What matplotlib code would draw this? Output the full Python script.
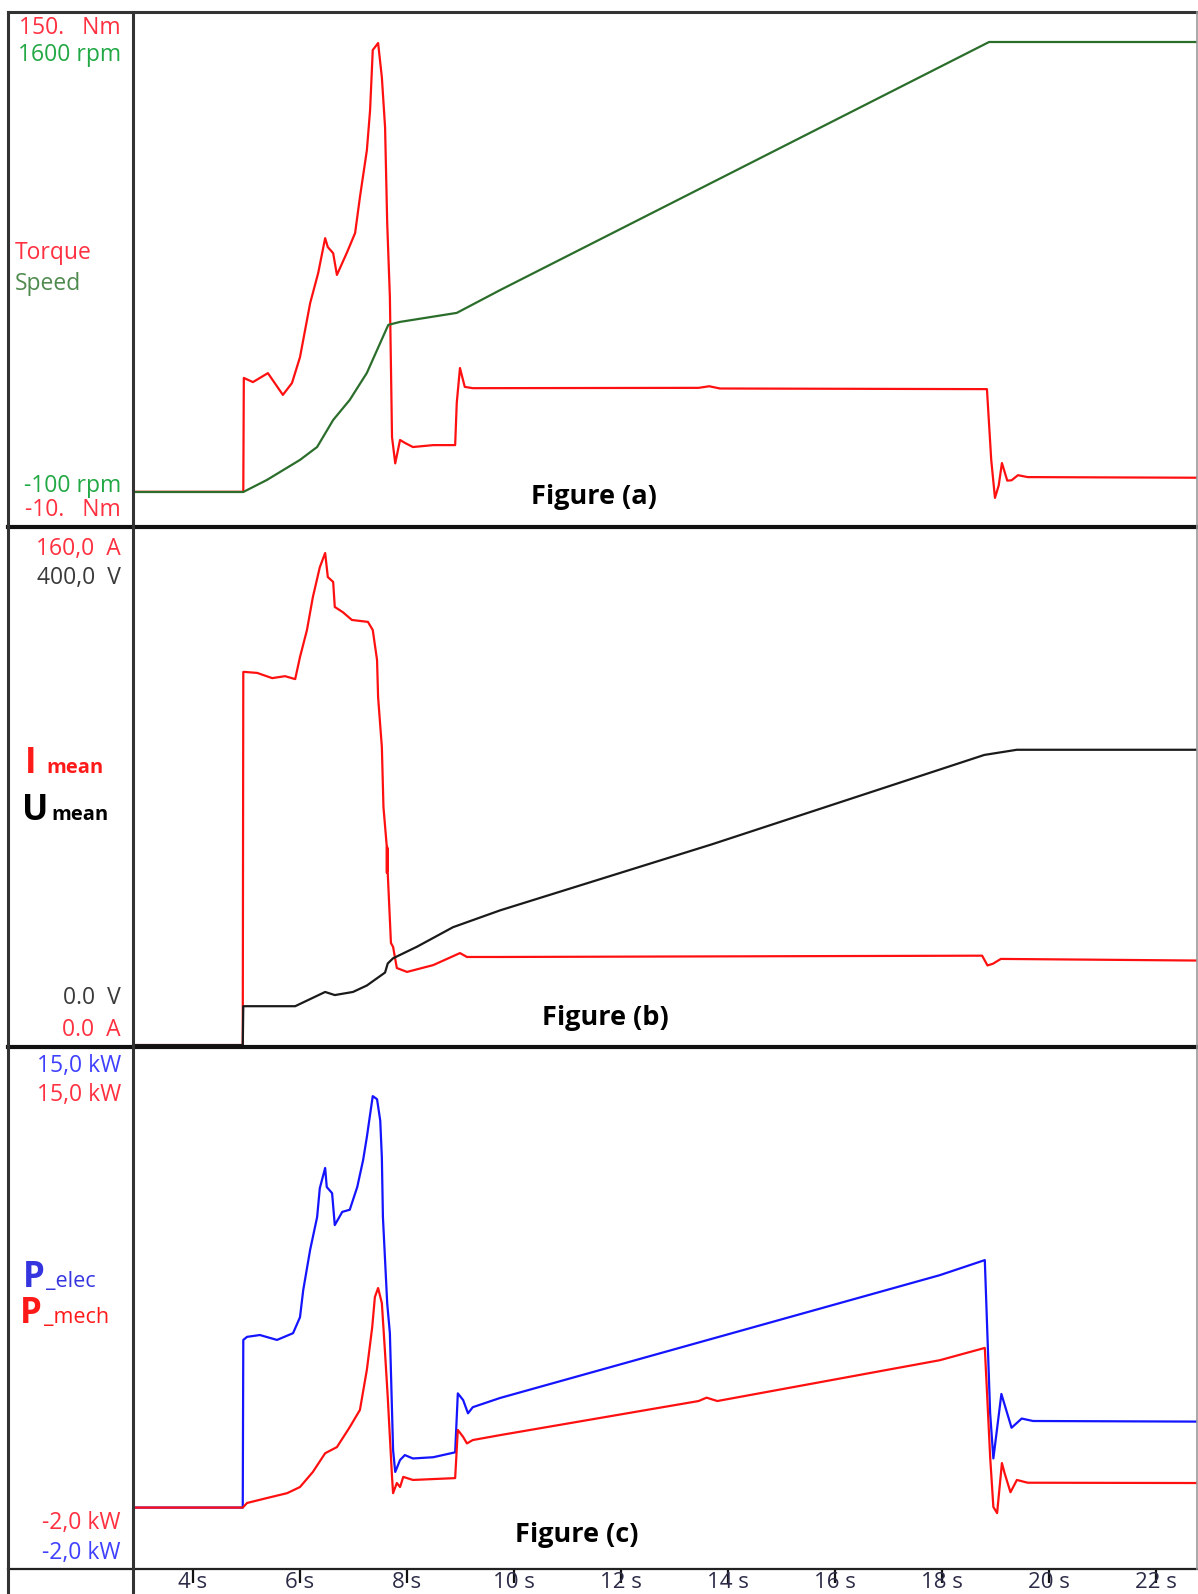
import numpy as np
import matplotlib.pyplot as plt
from matplotlib.lines import Line2D

# ---- measured traces (time in s) ----
# (a) torque [Nm] and speed [rpm]
t_torque = [2.88, 4.94, 4.95, 5.12, 5.40, 5.68, 5.85, 6.00, 6.19, 6.34, 6.47, 6.52,
            6.62, 6.69, 6.88, 7.03, 7.12, 7.25, 7.31, 7.36, 7.46, 7.53, 7.59, 7.63,
            7.68, 7.72, 7.78, 7.87, 7.96, 8.11, 8.49, 8.90, 8.93, 8.99, 9.08, 9.23,
            13.45, 13.65, 13.85, 18.84, 18.92, 18.99, 19.06, 19.12, 19.22, 19.30,
            19.42, 19.6, 22.8]
torque = [0, 0, 35.6, 34.3, 37.1, 30.3, 34.0, 42.1, 59.0, 68.4, 79.3, 76.5,
          74.6, 67.8, 74.9, 80.9, 92.1, 106.8, 119.3, 138.1, 140.3, 129.6, 114.0, 84.0,
          60.9, 17.1, 8.9, 16.2, 15.3, 14.0, 14.6, 14.6, 27.8, 38.7, 32.8, 32.4,
          32.5, 33.0, 32.3, 32.1, 10.0, -1.9, 2.0, 9.0, 3.5, 3.6,
          5.2, 4.6, 4.4]

t_speed = [2.88, 4.94, 5.38, 6.0, 6.32, 6.62, 6.93, 7.25, 7.5, 7.65, 7.87, 8.93,
           9.74, 18.88, 22.8]
speed = [0, 0, 40, 107, 150, 240, 307, 397, 497, 557, 567, 597,
         673, 1500, 1500]

# (b) mean current [A] and mean voltage [V]
t_cur = [2.88, 4.93, 4.94, 4.97, 5.20, 5.48, 5.72, 5.91, 6.00, 6.13, 6.24, 6.37,
         6.47, 6.52, 6.62, 6.65, 6.80, 6.97, 7.27, 7.36, 7.44, 7.46, 7.53, 7.56,
         7.620, 7.624, 7.628, 7.632, 7.636, 7.640, 7.70, 7.74, 7.81, 8.00, 8.49,
         8.99, 9.12, 9.74, 18.75, 18.85, 18.95, 19.1, 22.8]
current = [0, 0, 114.8, 114.8, 114.5, 112.9, 113.5, 112.6, 119.4, 127.7, 137.8, 147.0,
           151.4, 144.0, 142.5, 134.8, 133.2, 130.8, 130.2, 127.7, 118.5, 107.0, 91.7, 73.2,
           61.5, 53.0, 61.0, 53.5, 60.5, 52.9, 31.4, 30.2, 23.7, 22.5, 24.6,
           28.3, 27.1, 27.1, 27.5, 24.5, 25.0, 26.5, 26.0]

t_volt = [2.88, 4.93, 4.94, 5.91, 6.47, 6.65, 6.99, 7.25, 7.59, 7.64, 7.74, 8.19,
          8.86, 9.74, 13.7, 18.79, 19.4, 22.8]
volt = [0, 0, 30, 30, 41, 38.6, 41, 46, 56, 63, 67, 76,
        91, 104, 155, 224, 228, 228]

# (c) electrical and mechanical power [kW]
t_pe = [2.88, 4.93, 4.94, 5.01, 5.25, 5.57, 5.87, 6.00, 6.06, 6.19, 6.32, 6.37,
        6.47, 6.50, 6.60, 6.65, 6.79, 6.93, 7.07, 7.18, 7.25, 7.31, 7.36, 7.44,
        7.50, 7.53, 7.55, 7.63, 7.68, 7.74, 7.78, 7.87, 7.96, 8.11, 8.49, 8.90,
        8.95, 9.05, 9.14, 9.23, 9.74, 17.96, 18.80, 18.90, 18.96, 19.11, 19.30,
        19.49, 19.7, 22.8]
p_elec = [0, 0, 5.46, 5.56, 5.62, 5.46, 5.68, 6.2, 7.08, 8.4, 9.46, 10.4,
          11.06, 10.44, 10.24, 9.2, 9.63, 9.7, 10.44, 11.32, 12.07, 12.8, 13.4, 13.3,
          12.6, 11.4, 9.46, 6.65, 5.68, 1.87, 1.16, 1.55, 1.71, 1.6, 1.64, 1.8,
          3.72, 3.5, 3.07, 3.27, 3.57, 7.57, 8.06, 3.07, 1.6, 3.7, 2.6,
          2.9, 2.82, 2.8]

t_pm = [2.88, 4.93, 5.01, 5.38, 5.76, 6.00, 6.24, 6.47, 6.69, 6.93, 7.12, 7.25,
        7.35, 7.40, 7.46, 7.53, 7.59, 7.64, 7.72, 7.74, 7.81, 7.87, 7.93, 8.11,
        8.90, 8.95, 9.05, 9.12, 9.23, 9.74, 13.45, 13.6, 13.8, 17.96, 18.80, 18.83,
        18.90, 18.96, 19.03, 19.12, 19.17, 19.28, 19.40, 19.6, 22.8]
p_mech = [0, 0, 0.15, 0.31, 0.47, 0.67, 1.16, 1.77, 1.97, 2.62, 3.18, 4.49,
          5.88, 6.86, 7.15, 6.66, 5.03, 3.6, 1.0, 0.47, 0.8, 0.67, 1.0, 0.9,
          0.96, 2.53, 2.3, 2.09, 2.2, 2.36, 3.47, 3.58, 3.47, 4.8, 5.2, 4.15,
          1.65, 0.02, -0.18, 1.45, 1.12, 0.5, 0.9, 0.81, 0.8]

time_ticks = [4, 6, 8, 10, 12, 14, 16, 18, 20, 22]
time_labels = [f'{t} s' for t in time_ticks]

# ---- layout in pixels ----
W, H = 1198, 1594
def fx(x):
    return x / W
def fy(y):
    return 1 - y / H

X_LEFT, X_COL, X_RIGHT = 8, 133, 1197
PANEL_Y = [12, 527, 1047, 1569]
T0 = 4 - (193 - X_COL) / 53.5
T1 = 4 + (X_RIGHT - 193) / 53.5

plt.rcParams['font.family'] = ['Open Sans', 'DejaVu Sans']
fig = plt.figure(figsize=(W / 100, H / 100), dpi=100)

def panel(i, lim1, lim2):
    top, bot = PANEL_Y[i], PANEL_Y[i + 1]
    ax = fig.add_axes([fx(X_COL), fy(bot), (X_RIGHT - X_COL) / W, (bot - top) / H])
    ax2 = ax.twinx()
    for a, lim in ((ax, lim1), (ax2, lim2)):
        a.set_xlim(T0, T1)
        a.set_ylim(*lim)
        a.set_yticks([])
        for s in a.spines.values():
            s.set_visible(False)
    ax.set_xticks([])
    ax.patch.set_alpha(0)
    return ax, ax2

RED = '#ff1010'
LW = 1.6

# (a)
axa, axa2 = panel(0, (-11, 150), (-116.7, 1600))
axa.plot(t_torque, torque, color=RED, lw=LW)
axa2.plot(t_speed, speed, color='#2b6e2b', lw=LW)

# (b)
axb, axb2 = panel(1, (-0.6, 159.4), (-1.5, 400))
axb.plot(t_cur, current, color=RED, lw=LW)
axb2.plot(t_volt, volt, color='#1a1a1a', lw=LW)

# (c)
axc, axc2 = panel(2, (-2, 15), (-2, 15))
axc.plot(t_pe, p_elec, color='#1414ff', lw=LW)
axc2.plot(t_pm, p_mech, color=RED, lw=LW)
axc.set_xticks(time_ticks)
axc.set_xticklabels(time_labels)
axc.tick_params(axis='x', direction='out', length=10, width=1.6, color='#111111',
                pad=-8, labelsize=16, labelcolor='#2c2c48')

# frame lines
def hline(y, x0, x1, lw, c='#222222'):
    fig.add_artist(Line2D([fx(x0), fx(x1)], [fy(y), fy(y)], color=c, lw=lw))
def vline(x, y0, y1, lw, c='#222222'):
    fig.add_artist(Line2D([fx(x), fx(x)], [fy(y0), fy(y1)], color=c, lw=lw))

hline(12, X_LEFT, W, 2.2, '#333333')
hline(527, X_LEFT, W, 3.0, '#111111')
hline(1047, X_LEFT, W, 3.0, '#111111')
hline(1569, X_LEFT, W, 1.6, '#222222')
vline(X_LEFT, 12, H, 2.2, '#333333')
vline(X_COL, 12, H, 2.2, '#333333')
vline(X_RIGHT, 12, 1569, 1.2, '#999999')

# channel labels
def label(y, s, c, x=121, ha='right', size=16.5, weight='normal'):
    fig.text(fx(x), fy(y), s, color=c, ha=ha, va='center', fontsize=size,
             fontweight=weight)

PINK = '#ff3040'
GREEN = '#22a844'
BLUE = '#4040ff'
label(28, '150.   Nm', PINK)
label(55, '1600 rpm', GREEN)
label(253, 'Torque', PINK, x=15, ha='left')
label(284, 'Speed', '#4f8a4f', x=15, ha='left')
label(486, '-100 rpm', GREEN)
label(510, '-10.   Nm', PINK)

label(549, '160,0  A', PINK)
label(578, '400,0  V', '#3a3a3a')
label(998, '0.0  V', '#3a3a3a')
label(1030, '0.0  A', PINK)

label(1066, '15,0 kW', BLUE)
label(1095, '15,0 kW', PINK)
label(1523, '-2,0 kW', PINK)
label(1553, '-2,0 kW', BLUE)

# signal names with a large first letter
def name(x, y, big, small, c, x_small, small_weight='bold', small_size=14.5):
    fig.text(fx(x), fy(y), big, color=c, ha='left', va='baseline', fontsize=25,
             fontweight='bold')
    fig.text(fx(x_small), fy(y), small, color=c, ha='left', va='baseline',
             fontsize=small_size, fontweight=small_weight)

name(25, 773, 'I', 'mean', '#ff1a1a', 46)
name(22, 820, 'U', 'mean', '#000000', 51)
name(23, 1287, 'P', '_elec', '#3535e0', 46, 'normal', 15.5)
name(20, 1323, 'P', '_mech', '#ff1a1a', 44, 'normal', 15.5)

# panel titles
for (x, y), s in zip([(594, 497), (605, 1018), (577, 1535)],
                     ['Figure (a)', 'Figure (b)', 'Figure (c)']):
    fig.text(fx(x), fy(y), s, ha='center', va='center', fontsize=19.5,
             fontweight='bold', color='#000000')

fig.savefig('out.png', dpi=100)
